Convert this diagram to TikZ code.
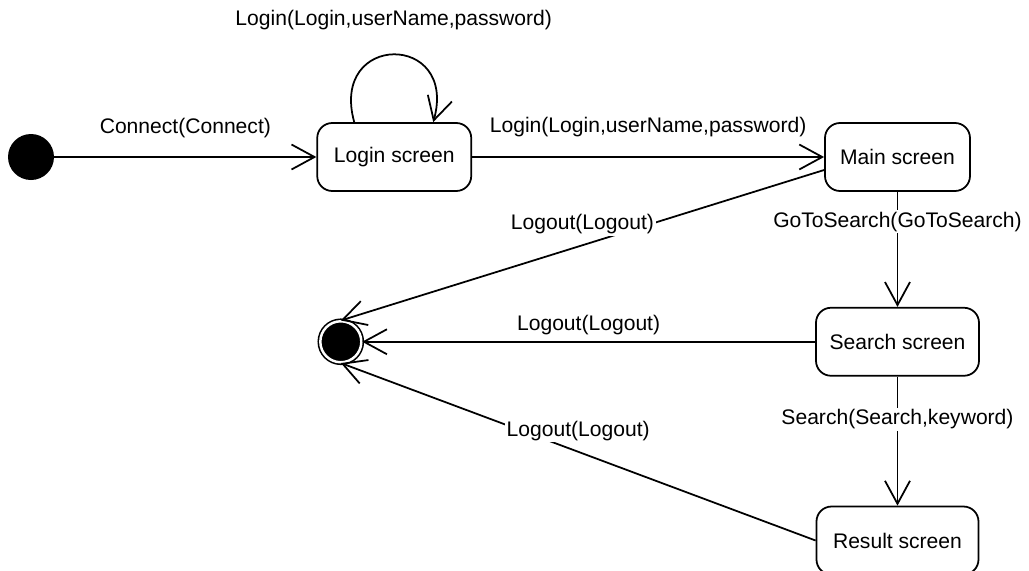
\documentclass[tikz,border=0pt]{standalone}
\usepackage{fontspec}
\setmainfont{Liberation Sans}
\usetikzlibrary{positioning,arrows.meta}

\begin{document}
\begin{tikzpicture}[
    font=\fontsize{12}{14}\selectfont,
    state/.style={rounded corners=0.3cm, draw, line width=1pt, align=center, minimum height=1.36cm},
    startdot/.style={circle, fill=black, inner sep=0pt, minimum size=0.92cm},
    enddot/.style={circle, fill=black, draw=black, double=white, double distance=1.4pt, line width=0.9pt, inner sep=0pt, minimum size=0.82cm},
    trans/.style={-{Straight Barb[length=0.46cm,width=0.5cm]}, line width=1pt},
    lbl/.style={fill=white, inner sep=1pt}
]
\useasboundingbox (0,0) rectangle (20.58,-11.4);

\node[startdot] (init) at (0.62,-3.14) {};
\node[state, minimum width=3.08cm, right=5.24cm of init] (login) {Login screen};
\node[state, minimum width=2.9cm, right=7.04cm of login] (main) {Main screen};
\node[state, minimum width=3.26cm, below=2.3cm of main] (search) {Search screen};
\node[state, minimum width=3.24cm, below=2.58cm of search] (result) {Result screen};
\node[enddot, left=9.06cm of search] (final) {};

\draw[trans] (init) -- node[midway, above=0.24cm] {Connect(Connect)} (login);
\draw[trans] ([xshift=-0.8cm]login.north) .. controls +(-0.5,1.8) and +(0.5,1.8) .. node[above=0.36cm] {Login(Login,userName,password)} ([xshift=0.78cm]login.north);
\draw[trans] (login) -- node[midway, above=0.26cm] {Login(Login,userName,password)} (main);
\draw[trans] (main) -- node[lbl, pos=0.26] {GoToSearch(GoToSearch)} (search);
\draw[trans] (search) -- node[lbl, pos=0.33] {Search(Search,keyword)} (result);
\draw[trans] ([yshift=-0.26cm]main.west) -- node[lbl, midway, yshift=0.42cm] {Logout(Logout)} (final.north);
\draw[trans] (search) -- node[midway, above] {Logout(Logout)} (final);
\draw[trans] (result.west) -- node[lbl, midway, yshift=0.42cm] {Logout(Logout)} (final.south);
\end{tikzpicture}
\end{document}
